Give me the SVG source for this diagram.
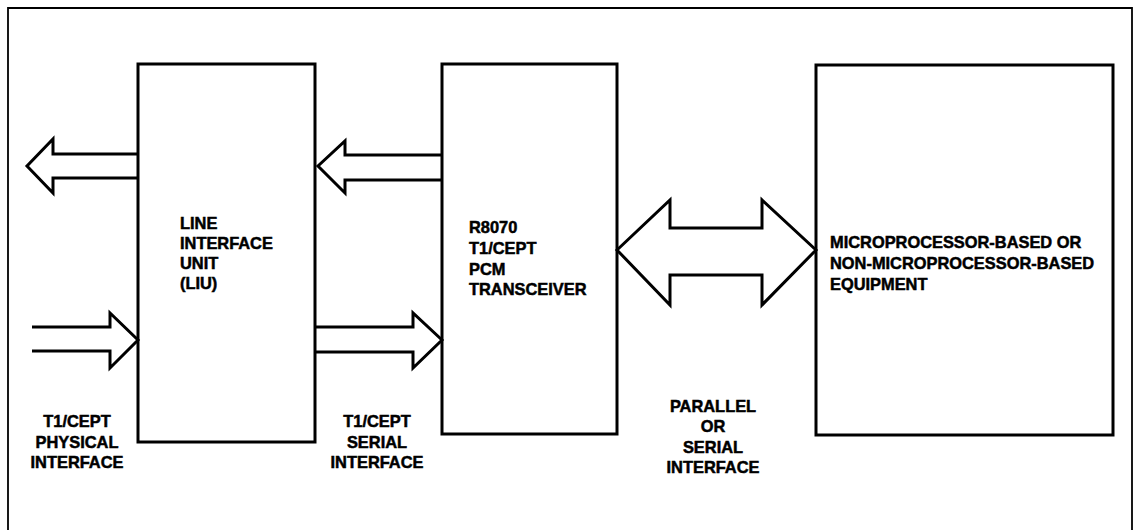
<svg xmlns="http://www.w3.org/2000/svg" width="1138" height="530" viewBox="0 0 1138 530">
<style>
.box{fill:#fff;stroke:#000;stroke-width:3}
.frame{fill:none;stroke:#000;stroke-width:1.8}
.arr{fill:none;stroke:#000;stroke-width:3;stroke-linejoin:miter}
text{font-family:"Liberation Sans",Arial,sans-serif;font-weight:bold;font-size:16.4px;fill:#000;stroke:#000;stroke-width:0.5}
.c{text-anchor:middle}
</style>
<rect width="1138" height="530" fill="#fff"/>
<path class="frame" d="M8,530 L8,8 L1132,8 L1132,530"/>
<g id="liu">
<rect class="box" x="138" y="64" width="177" height="378"/>
<text x="180" y="229">LINE</text>
<text x="180" y="249">INTERFACE</text>
<text x="180" y="269">UNIT</text>
<text x="180" y="289">(LIU)</text>
</g>
<g id="transceiver">
<rect class="box" x="442" y="64" width="175" height="370"/>
<text x="469" y="233">R8070</text>
<text x="469" y="254">T1/CEPT</text>
<text x="469" y="275">PCM</text>
<text x="469" y="295">TRANSCEIVER</text>
</g>
<g id="equipment">
<rect class="box" x="816" y="65" width="297" height="370"/>
<text x="830" y="248">MICROPROCESSOR-BASED OR</text>
<text x="830" y="269">NON-MICROPROCESSOR-BASED</text>
<text x="830" y="290">EQUIPMENT</text>
</g>
<g id="connectors">
<path class="arr" d="M138,154 L53,154 L53,139 L27,166 L53,193 L53,178 L138,178"/>
<path class="arr" d="M442,155 L345,155 L345,141 L318,166 L345,193 L345,180 L442,180"/>
<path class="arr" d="M32,327 L110,327 L110,313 L138,340 L110,368 L110,351 L32,351"/>
<path class="arr" d="M315,327 L413,327 L413,313 L442,340 L413,368 L413,352 L315,352"/>
<path class="arr" d="M617,250 L670,200 L670,228 L762,228 L762,200 L816,250 L762,305 L762,275 L670,275 L670,305 Z"/>
</g>
<g id="labels">
<text class="c" x="77" y="427">T1/CEPT</text>
<text class="c" x="77" y="448">PHYSICAL</text>
<text class="c" x="77" y="468">INTERFACE</text>
<text class="c" x="377" y="427">T1/CEPT</text>
<text class="c" x="377" y="448">SERIAL</text>
<text class="c" x="377" y="468">INTERFACE</text>
<text class="c" x="713" y="412">PARALLEL</text>
<text class="c" x="713" y="432">OR</text>
<text class="c" x="713" y="453">SERIAL</text>
<text class="c" x="713" y="473">INTERFACE</text>
</g>
</svg>
